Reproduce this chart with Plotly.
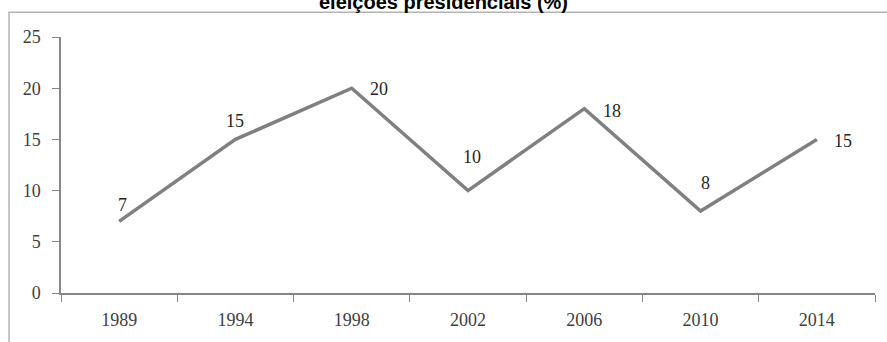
import plotly.graph_objects as go

# Election years and percentages
years = ["1989", "1994", "1998", "2002", "2006", "2010", "2014"]
values = [7, 15, 20, 10, 18, 8, 15]
y_ticks = [0, 5, 10, 15, 20, 25]

title_text = "eleições presidenciais (%)"

# pixel offsets of each value label relative to its point
label_dx = [3, 0, 27, 4, 28, 5, 26]
label_dy = [16, 18, -1, 34, -2, 28, -2]

W, H = 887, 342
L, R, T, B = 61, 12, 37, 47
pw, ph = W - L - R, H - T - B

serif = "Liberation Serif, Times New Roman, serif"

fig = go.Figure()
fig.add_trace(go.Scatter(
    x=years, y=values, mode="lines",
    line=dict(color="#808080", width=3.5),
    hoverinfo="skip", showlegend=False,
))

# value labels, positioned by category index on the category axis
for i, (v, dx, dy) in enumerate(zip(values, label_dx, label_dy)):
    fig.add_annotation(
        x=i, y=v, xref="x", yref="y", text=str(v), showarrow=False,
        xshift=dx, yshift=dy,
        font=dict(family=serif, size=18, color="#262626"),
    )

# outer chart frame
def px_x(p):
    return (p - L) / pw

def px_y(p):
    return (H - B - p) / ph

fig.add_shape(
    type="rect", xref="paper", yref="paper",
    x0=px_x(9), x1=px_x(905), y0=px_y(380), y1=px_y(12),
    line=dict(color="#b4b4b4", width=1.5), fillcolor="rgba(0,0,0,0)",
    layer="below",
)

fig.update_layout(
    width=W, height=H,
    margin=dict(l=L, r=R, t=T, b=B),
    paper_bgcolor="white", plot_bgcolor="white",
    title=dict(
        text=title_text, x=0.5, xanchor="center",
        xref="container", yref="container",
        y=1 - 9 / H, yanchor="bottom",
        font=dict(family="Liberation Sans, Arial, sans-serif", size=20, color="#000000", weight="bold"),
    ),
    xaxis=dict(
        type="category", range=[-0.5, 6.5],
        tickson="boundaries", ticks="outside", ticklen=7, tickcolor="#868686",
        showline=True, linecolor="#868686", linewidth=1.5,
        showgrid=False, zeroline=False,
        tickfont=dict(family=serif, size=18, color="#404040"),
        ticklabelstandoff=10,
        fixedrange=True,
    ),
    yaxis=dict(
        range=[0, 25], tickvals=y_ticks, ticktext=[str(t) for t in y_ticks],
        ticks="outside", ticklen=7, tickcolor="#868686",
        showline=True, linecolor="#868686", linewidth=1.5,
        showgrid=False, zeroline=False,
        tickfont=dict(family=serif, size=18, color="#404040"),
        ticklabelstandoff=8,
        fixedrange=True,
    ),
)

fig.write_html("out.html")
